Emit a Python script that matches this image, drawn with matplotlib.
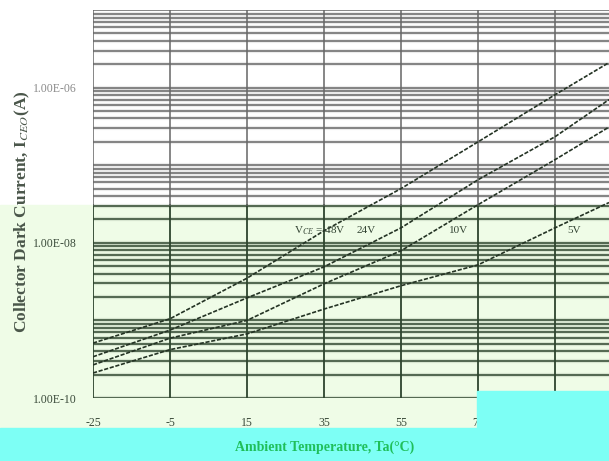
import numpy as np
import matplotlib.pyplot as plt
from matplotlib.patches import Rectangle

plt.rcParams['font.family'] = ['Liberation Serif', 'DejaVu Serif']
plt.rcParams['mathtext.fontset'] = 'stix'

# values (A)
temps = [-25, -5, 15, 35, 55, 75, 95, 109]
i_48v = [5.1e-10, 1.05e-9, 3.5e-9, 1.43e-8, 5.0e-8, 2.0e-7, 8.1e-7, 2.1e-6]
i_24v = [3.4e-10, 7.5e-10, 1.95e-9, 4.9e-9, 1.56e-8, 6.5e-8, 2.33e-7, 7.0e-7]
i_10v = [2.67e-10, 5.9e-10, 1.0e-9, 2.96e-9, 7.9e-9, 3.1e-8, 1.18e-7, 3.1e-7]
i_5v = [2.1e-10, 4.2e-10, 6.7e-10, 1.4e-9, 2.8e-9, 5.2e-9, 1.56e-8, 3.3e-8]

x_ticks = [-25, -5, 15, 35, 55, 75, 95]
y_ticks = [1e-10, 1e-8, 1e-6]
y_tick_labels = ['1.00E-10', '1.00E-08', '1.00E-06']

curve_labels = ['V$_{CE}$ = 48V', '24V', '10V', '5V']
label_x = [34, 46, 70, 100]
label_y = 1.43e-8

W, H = 609, 461
fig = plt.figure(figsize=(W / 100, H / 100), dpi=100)
fig.patch.set_facecolor('white')

green = '#effce7'
cyan = '#7dfff5'
dark_green = '#2e452e'
grey = '#666666'

# coloured bands of the scan
green_top = 1 - 205 / H
fig.patches.append(Rectangle((0, 1 - 428 / H), 1, green_top - (1 - 428 / H),
                             transform=fig.transFigure, color=green, zorder=-2))
fig.patches.append(Rectangle((0, 0), 1, 1 - 428 / H,
                             transform=fig.transFigure, color=cyan, zorder=-2))
fig.patches.append(Rectangle((477 / W, 1 - 428 / H), 1, (428 - 391) / H,
                             transform=fig.transFigure, color=cyan, zorder=2))

ax = fig.add_axes([93 / W, 1 - 398 / H, 516 / W, 388 / H])
ax.set_facecolor('none')
ax.set_yscale('log')
ax.set_xlim(-25, 109)
ax.set_ylim(1e-10, 1e-5)
for s in ax.spines.values():
    s.set_visible(False)

# where the green band starts, in data units
_, ysplit = ax.transData.inverted().transform(fig.transFigure.transform((0, green_top)))

# horizontal grid at every log tick
for dec in range(-10, -5):
    for m in range(1, 10):
        yv = m * 10.0 ** dec
        c = dark_green if yv < ysplit else grey
        ax.axhline(yv, color=c, lw=3, alpha=0.12, zorder=1)
        ax.axhline(yv, color=c, lw=1.1, zorder=1)
ax.axhline(1e-5, color=grey, lw=1.1, zorder=1)

# vertical grid every 20 C
for xv in x_ticks:
    ax.plot([xv, xv], [1e-10, ysplit], color=dark_green, lw=1.3, zorder=1)
    ax.plot([xv, xv], [ysplit, 1e-5], color=grey, lw=1.1, zorder=1)

for ys in [i_48v, i_24v, i_10v, i_5v]:
    ax.plot(temps, ys, color='#243324', lw=1.2, ls=(0, (2.5, 1)), zorder=3)

for txt, lx in zip(curve_labels, label_x):
    ax.text(lx, label_y, txt, ha='center', va='center', fontsize=8,
            color='#334433', zorder=4)

ax.set_xticks(x_ticks)
ax.set_xticklabels([str(t) for t in x_ticks])
ax.set_yticks(y_ticks)
ax.set_yticklabels(y_tick_labels)
ax.minorticks_off()
ax.set_yticks([], minor=True)
ax.tick_params(axis='both', length=0, labelsize=8.5, colors='#3a4a3a')
ax.tick_params(axis='x', pad=14)
ax.tick_params(axis='y', pad=12)
ax.get_yticklabels()[2].set_color('#8a8a8a')

fig.text(325 / W, 1 - 447 / H, 'Ambient Temperature, Ta(°C)', ha='center',
         va='center', fontsize=10, fontweight='bold', color='#1fbf5a', zorder=5)
fig.text(22 / W, 1 - 212 / H, 'Collector Dark Current, I$_{CEO}$(A)', ha='center',
         va='center', rotation=90, fontsize=12.5, fontweight='bold', color='#4a564a')

fig.savefig('out.png', dpi=100)
